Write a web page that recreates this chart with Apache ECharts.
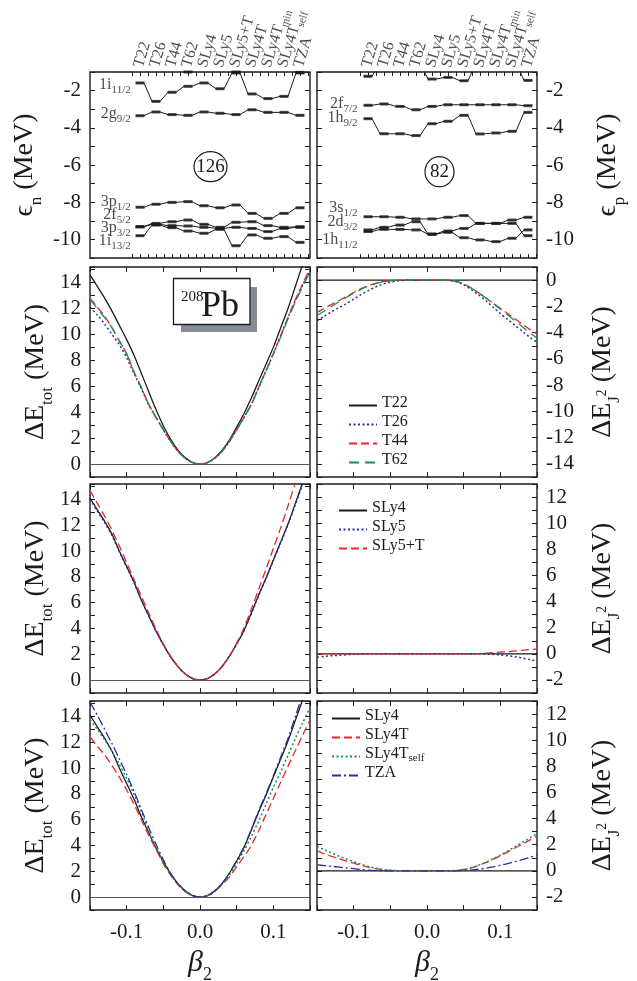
<!DOCTYPE html>
<html>
<head>
<meta charset="utf-8">
<title>208Pb tensor terms</title>
<script src="https://cdn.jsdelivr.net/npm/echarts@6.0.0/dist/echarts.min.js"></script>
<style>
html, body { margin: 0; padding: 0; background: #fff; }
#chart { width: 637px; height: 981px; }
</style>
</head>
<body>
<div id="chart"></div>
<script>
var SERIF = '"Liberation Serif", "DejaVu Serif", serif';
var INK = '#1b1b1b';
var RED = '#e8262b', BLUE = '#27309e', GREEN = '#12924a';

// parametrisations along the level-scheme axis
var models = ['T22', 'T26', 'T44', 'T62', 'SLy4', 'SLy5', 'SLy5+T', 'SLy4T', 'SLy4T_min', 'SLy4T_self', 'TZA'];

// neutron single-particle levels (MeV), one value per model
var nTop  = [-0.5, -0.5, -0.6, -1.0, -0.6, -0.6, -1.0, -0.5, -0.5, -0.5, -1.02];
var n1i11 = [-1.59, -2.58, -2.09, -1.77, -1.59, -1.90, -1.05, -2.18, -2.43, -2.31, -1.05];
var n2g9  = [-3.35, -3.15, -3.29, -3.33, -3.15, -3.22, -3.29, -3.03, -3.17, -3.17, -3.33];
var n3p1  = [-8.27, -8.11, -8.01, -7.97, -8.19, -8.30, -8.15, -8.60, -8.87, -8.60, -8.30];
var n2f5  = [-9.32, -9.14, -9.05, -8.96, -9.19, -9.35, -9.08, -9.05, -9.26, -9.35, -9.32];
var n3p3  = [-9.32, -9.19, -9.26, -9.28, -9.35, -9.41, -9.35, -9.41, -9.58, -9.41, -9.35];
var n1i13 = [-9.80, -9.23, -9.37, -9.55, -9.67, -9.46, -10.34, -9.76, -9.94, -9.85, -10.16];
var nLabels = ['1i_11/2', '2g_9/2', '3p_1/2', '2f_5/2', '3p_3/2', '1i_13/2'];
var nLabelY = [-1.75, -3.31, -8.04, -8.74, -9.44, -10.14];

// proton single-particle levels (MeV)
var pTop  = [-1.23, -0.5, -0.5, -0.5, -1.38, -1.29, -1.47, -0.5, -0.5, -0.5, -1.45];
var p2f7  = [-2.79, -2.72, -2.85, -3.03, -2.85, -2.76, -2.76, -2.76, -2.76, -2.76, -2.81];
var p1h9  = [-3.51, -4.32, -4.32, -4.42, -3.78, -3.65, -3.33, -4.33, -4.28, -4.19, -3.17];
var p3s1  = [-8.78, -8.78, -8.81, -8.90, -8.90, -8.81, -8.72, -9.14, -9.14, -8.96, -8.81];
var p2d3  = [-9.49, -9.35, -9.23, -9.05, -9.71, -9.55, -9.41, -9.14, -9.14, -9.14, -9.80];
var p1h11 = [-9.58, -9.46, -9.46, -9.49, -9.73, -9.62, -9.91, -10.03, -10.12, -9.94, -9.49];
var pLabels = ['2f_7/2', '1h_9/2', '3s_1/2', '2d_3/2', '1h_11/2'];
var pLabelY = [-2.77, -3.53, -8.37, -9.12, -10.09];

// deformation grid
var beta = [-0.15, -0.14, -0.13, -0.12, -0.11, -0.10, -0.09, -0.08, -0.07, -0.06, -0.05, -0.04, -0.03, -0.02, -0.01, 0,
            0.01, 0.02, 0.03, 0.04, 0.05, 0.06, 0.07, 0.08, 0.09, 0.10, 0.11, 0.12, 0.13, 0.14, 0.15];

// total energy curves (MeV)
var etotT22 = [14.6, 13.7, 12.8, 11.8, 10.7, 9.6, 8.4, 7.0, 5.6, 4.2, 2.95, 1.9, 1.07, 0.48, 0.12, 0,
               0.12, 0.47, 1.05, 1.85, 2.85, 3.9, 5.1, 6.4, 7.7, 9.0, 10.5, 12.0, 13.7, 15.4, 17.0];
var etotT26 = [12.1, 11.5, 10.8, 10.0, 9.2, 8.2, 7.0, 5.8, 4.6, 3.6, 2.65, 1.74, 0.98, 0.44, 0.11, 0,
               0.11, 0.44, 0.98, 1.74, 2.65, 3.6, 4.6, 5.9, 7.2, 8.5, 9.9, 11.3, 12.6, 13.8, 14.9];
var etotT44 = [12.8, 12.1, 11.4, 10.5, 9.5, 8.5, 7.1, 5.9, 4.6, 3.6, 2.65, 1.74, 0.98, 0.44, 0.11, 0,
               0.11, 0.44, 0.98, 1.74, 2.65, 3.6, 4.6, 5.9, 7.2, 8.5, 9.9, 11.3, 12.7, 13.9, 15.1];
var etotT62 = [12.7, 12.0, 11.3, 10.5, 9.5, 8.5, 7.1, 5.9, 4.6, 3.6, 2.65, 1.74, 0.98, 0.44, 0.11, 0,
               0.11, 0.44, 0.98, 1.74, 2.65, 3.6, 4.6, 5.9, 7.2, 8.5, 9.8, 11.2, 12.5, 13.7, 14.8];
var etotSLy4 = [14.1, 13.2, 12.3, 11.3, 10.0, 8.8, 7.6, 6.2, 5.0, 3.8, 2.75, 1.8, 1.05, 0.47, 0.12, 0,
                0.12, 0.47, 1.05, 1.85, 2.8, 3.85, 5.2, 6.6, 7.9, 9.3, 10.7, 12.1, 13.7, 15.3, 17.0];
var etotSLy5 = [14.0, 13.1, 12.2, 11.2, 9.95, 8.75, 7.55, 6.2, 5.0, 3.8, 2.75, 1.8, 1.05, 0.47, 0.12, 0,
                0.12, 0.47, 1.05, 1.85, 2.8, 3.85, 5.15, 6.55, 7.85, 9.25, 10.65, 12.05, 13.6, 15.2, 16.9];
var etotSLy5T = [14.7, 13.7, 12.7, 11.6, 10.4, 9.1, 7.8, 6.5, 5.2, 3.95, 2.8, 1.85, 1.05, 0.47, 0.12, 0,
                 0.12, 0.47, 1.05, 1.85, 2.85, 4.05, 5.5, 7.05, 8.6, 10.2, 11.8, 13.5, 15.3, 17.1, 18.9];
var etotSLy4T = [12.4, 11.7, 11.0, 10.2, 9.3, 8.3, 7.2, 6.0, 4.8, 3.7, 2.6, 1.7, 0.95, 0.42, 0.1, 0,
                 0.1, 0.42, 0.95, 1.55, 2.35, 3.15, 4.0, 5.15, 6.4, 7.65, 8.9, 10.15, 11.35, 12.55, 13.75];
var etotSLy4Tself = [13.75, 13.0, 12.2, 11.3, 10.3, 9.2, 8.0, 6.6, 5.1, 3.8, 2.7, 1.75, 1.0, 0.44, 0.11, 0,
                     0.11, 0.44, 1.0, 1.7, 2.6, 3.6, 4.7, 5.9, 7.2, 8.5, 9.7, 11.0, 12.3, 13.5, 14.7];
var etotTZA = [15.1, 14.1, 13.0, 11.9, 10.7, 9.5, 8.2, 6.8, 5.4, 4.1, 2.9, 1.85, 1.05, 0.47, 0.12, 0,
               0.12, 0.47, 1.05, 1.85, 2.85, 3.9, 5.25, 6.7, 8.0, 9.4, 10.85, 12.3, 14.0, 15.7, 17.4];

// J^2 correction curves (MeV)
var ej2Zero = [0, 0, 0, 0, 0, 0, 0, 0, 0, 0, 0, 0, 0, 0, 0, 0, 0, 0, 0, 0, 0, 0, 0, 0, 0, 0, 0, 0, 0, 0, 0];
var ej2T26 = [-3.1, -2.75, -2.4, -2.1, -1.8, -1.45, -1.1, -0.8, -0.52, -0.3, -0.15, -0.06, -0.02, 0, 0, 0,
              0, 0, -0.03, -0.12, -0.35, -0.7, -1.1, -1.55, -2.05, -2.55, -3.0, -3.45, -3.9, -4.35, -4.75];
var ej2T44 = [-2.46, -2.15, -1.85, -1.55, -1.25, -0.95, -0.65, -0.42, -0.24, -0.12, -0.05, -0.02, 0, 0, 0, 0,
              0, 0, 0, -0.1, -0.3, -0.6, -0.95, -1.35, -1.75, -2.15, -2.55, -2.95, -3.35, -3.75, -4.1];
var ej2T62 = [-2.7, -2.35, -2.0, -1.65, -1.32, -1.0, -0.7, -0.45, -0.26, -0.13, -0.05, -0.02, 0, 0, 0, 0,
              0, 0, 0, -0.1, -0.3, -0.6, -0.95, -1.35, -1.77, -2.2, -2.65, -3.1, -3.55, -4.0, -4.4];
var ej2SLy5 = [-0.26, -0.2, -0.15, -0.11, -0.07, -0.04, -0.02, -0.01, 0, 0, 0, 0, 0, 0, 0, 0,
               0, 0, 0, 0, 0, 0, 0, -0.02, -0.05, -0.09, -0.15, -0.23, -0.32, -0.44, -0.57];
var ej2SLy5T = [0, 0, 0, 0, 0, 0, 0, 0, 0, 0, 0, 0, 0, 0, 0, 0,
                0, 0, 0, 0, 0, 0, 0.02, 0.05, 0.09, 0.13, 0.17, 0.22, 0.27, 0.32, 0.38];
var ej2SLy4T = [1.52, 1.3, 1.1, 0.92, 0.75, 0.58, 0.42, 0.28, 0.16, 0.08, 0.03, 0.01, 0, 0, 0, 0,
                0, 0, 0, 0.03, 0.1, 0.22, 0.4, 0.62, 0.88, 1.15, 1.45, 1.75, 2.05, 2.35, 2.66];
var ej2SLy4Tself = [1.9, 1.62, 1.36, 1.12, 0.9, 0.7, 0.5, 0.33, 0.2, 0.1, 0.04, 0.01, 0, 0, 0, 0,
                    0, 0, 0, 0.03, 0.1, 0.23, 0.42, 0.65, 0.92, 1.2, 1.52, 1.84, 2.17, 2.5, 2.86];
var ej2TZA = [0.46, 0.4, 0.34, 0.28, 0.22, 0.16, 0.1, 0.05, 0.02, 0, 0, 0, 0, 0, 0, 0,
              0, 0, 0, 0, 0.02, 0.06, 0.12, 0.2, 0.3, 0.42, 0.55, 0.7, 0.86, 1.03, 1.22];

// layout
var colX = [90, 317], W = 220;
var firstCat = [50, 51], CAT = 16;
var rowTop = [72, 267, 484, 701], rowH = [186, 210, 209, 209];

function richSet(base, sub) {
    var pad = Math.round(base * 0.2);
    return {
        b: { fontFamily: SERIF, fontSize: base, color: INK, verticalAlign: 'bottom', padding: [0, 0, pad, 0] },
        s: { fontFamily: SERIF, fontSize: sub, color: INK, verticalAlign: 'bottom' },
        u: { fontFamily: SERIF, fontSize: sub * 0.8, color: INK, verticalAlign: 'bottom', padding: [0, 0, Math.round(base * 0.5), 0] },
        i: { fontFamily: SERIF, fontStyle: 'italic', fontSize: base, color: INK, verticalAlign: 'bottom', padding: [0, 0, pad, 0] }
    };
}
function rich(name) {
    var p = name.split('_');
    return '{b|' + p[0] + '}' + (p[1] ? '{s|' + p[1] + '}' : '');
}
function evenLabel(lo, hi) {
    return function (v) {
        var r = Math.round(v);
        if (Math.abs(v - r) > 1e-6 || r % 2 !== 0 || r < lo || r > hi) return '';
        return String(r);
    };
}
function betaLabel(v) {
    var r = Math.round(v * 100);
    if (r === -10) return '-0.1';
    if (r === 0) return '0.0';
    if (r === 10) return '0.1';
    return '';
}

var grids = [], xAxes = [], yAxes = [], series = [], legends = [];
function addGrid(g) { grids.push(g); return grids.length - 1; }
function addX(a) { xAxes.push(a); return xAxes.length - 1; }
function addY(a) { yAxes.push(a); return yAxes.length - 1; }

function frame(r, c) {
    return { left: colX[c], top: rowTop[r], width: W, height: rowH[r], show: true,
        borderColor: INK, borderWidth: 1.4, backgroundColor: 'rgba(0,0,0,0)',
        containLabel: false, outerBoundsMode: 'none' };
}
function valAxis(g, pos, min, max, fmt, name, gap) {
    return { type: 'value', gridIndex: g, position: pos, min: min, max: max, interval: 1,
        axisLine: { show: false, onZero: false }, splitLine: { show: false },
        axisTick: { show: true, inside: true, length: 5, lineStyle: { color: INK, width: 1 } },
        axisLabel: { show: !!fmt, formatter: fmt || undefined, fontFamily: SERIF, fontSize: 21, color: INK, margin: 9 },
        name: name || '', nameLocation: 'middle', nameRotate: 90, nameGap: gap || 0,
        nameTextStyle: { rich: richSet(28, 17) } };
}
function betaAxis(g, pos, labels) {
    return { type: 'value', gridIndex: g, position: pos, min: -0.15, max: 0.15, interval: 0.05,
        axisLine: { show: false, onZero: false }, splitLine: { show: false },
        axisTick: { show: true, inside: true, length: 5, lineStyle: { color: INK, width: 1 } },
        axisLabel: { show: labels, formatter: betaLabel, fontFamily: SERIF, fontSize: 21, color: INK, margin: 12 },
        name: labels ? '{i|β}{s|2}' : '', nameLocation: 'middle', nameGap: 38,
        nameTextStyle: { rich: richSet(30, 18) } };
}
function catAxis(g, pos, centre) {
    return { type: 'category', gridIndex: g, position: pos, data: models, boundaryGap: true,
        axisLine: { show: false, onZero: false }, splitLine: { show: false }, axisLabel: { show: false },
        axisTick: { show: true, inside: true, length: 4, alignWithLabel: centre, interval: 0, lineStyle: { color: INK, width: 1 } } };
}

function levelSeries(vals, xi, yi) {
    var pts = [];
    vals.forEach(function (v, i) { pts.push([i - 0.25, v]); pts.push([i + 0.25, v]); });
    series.push({ type: 'line', xAxisIndex: xi, yAxisIndex: yi, data: pts, symbol: 'none', silent: true,
        lineStyle: { color: INK, width: 1 } });
    series.push({ type: 'scatter', xAxisIndex: xi, yAxisIndex: yi, symbol: 'rect', symbolSize: [9, 3], silent: true,
        data: vals.map(function (v, i) { return [i, v]; }), itemStyle: { color: INK } });
}

function levelPanel(c, levels, labels, labelY, labelX, yName, gap) {
    var g = addGrid(frame(0, c));
    var xi = addX({ type: 'value', gridIndex: g, min: -firstCat[c] / CAT, max: (W - firstCat[c]) / CAT, show: false,
        axisLine: { onZero: false } });
    var yi = addY(valAxis(g, c === 0 ? 'left' : 'right', -11, -1, evenLabel(-10, -2), yName, gap));
    addY(valAxis(g, c === 0 ? 'right' : 'left', -11, -1, null));
    var og = addGrid({ left: colX[c] + firstCat[c] - CAT / 2, top: rowTop[0], width: CAT * models.length,
        height: rowH[0], show: false, containLabel: false, outerBoundsMode: 'none' });
    addY({ type: 'value', gridIndex: og, show: false, axisLine: { onZero: false } });
    addX(catAxis(og, 'top', true));
    addX(catAxis(og, 'bottom', true));
    addX(catAxis(og, 'top', false));
    addX(catAxis(og, 'bottom', false));
    levels.forEach(function (l) { levelSeries(l, xi, yi); });
    // level names inside the frame
    series.push({ type: 'scatter', xAxisIndex: xi, yAxisIndex: yi, symbolSize: 1, clip: false, silent: true,
        itemStyle: { color: 'rgba(0,0,0,0)' },
        data: labels.map(function (t, k) { return [labelX, labelY[k], t]; }),
        label: { show: true, position: 'left', distance: 0, color: INK, fontFamily: SERIF,
            formatter: function (p) { return rich(p.data[2]); }, rich: richSet(16, 11) } });
    // slanted model names above the frame
    series.push({ type: 'scatter', xAxisIndex: xi, yAxisIndex: yi, symbolSize: 1, clip: false, silent: true,
        itemStyle: { color: 'rgba(0,0,0,0)' },
        data: models.map(function (m, i) { return [i, -1, m]; }),
        label: { show: true, position: 'top', distance: 4, rotate: 73, align: 'left', verticalAlign: 'middle',
            color: INK, fontFamily: SERIF, fontSize: 16,
            formatter: function (p) { return rich(p.data[2]); }, rich: richSet(16, 11) } });
}

function curvePanel(r, c, yMin, yMax, lo, hi, yName, gap) {
    var g = addGrid(frame(r, c));
    var xi = addX(betaAxis(g, 'bottom', r === 3));
    addX(betaAxis(g, 'top', false));
    var yi = addY(valAxis(g, c === 0 ? 'left' : 'right', yMin, yMax, evenLabel(lo, hi), yName, gap));
    addY(valAxis(g, c === 0 ? 'right' : 'left', yMin, yMax, null));
    return { x: xi, y: yi };
}
function curve(name, vals, ax, color, dash, width) {
    series.push({ name: name, type: 'line', xAxisIndex: ax.x, yAxisIndex: ax.y, symbol: 'none', smooth: 0.3, silent: true,
        data: vals.map(function (v, i) { return [beta[i], v]; }),
        lineStyle: { color: color, width: width || 1.3, type: dash || 'solid' }, itemStyle: { color: color } });
}
function zeroLine(ax) {
    series.push({ type: 'line', xAxisIndex: ax.x, yAxisIndex: ax.y, data: [], silent: true,
        markLine: { silent: true, symbol: 'none', label: { show: false }, animation: false,
            lineStyle: { color: '#555', width: 1, type: 'solid' }, data: [{ yAxis: 0 }] } });
}
function legend(left, top, names) {
    var rs = richSet(16, 11);
    rs.b.lineHeight = 15; rs.s.lineHeight = 15; rs.b.padding = [0, 0, 2, 0];
    legends.push({ left: left, top: top, orient: 'vertical', itemWidth: 28, itemHeight: 2, itemGap: 1,
        selectedMode: false, data: names, itemStyle: { opacity: 0, borderWidth: 0 },
        formatter: rich, textStyle: { color: INK, fontFamily: SERIF, fontSize: 16, lineHeight: 15, rich: rs } });
}

var DOT = [2, 2.5], DASH = [8, 4], LDASH = [10, 6], DASHDOT = [9, 3, 2, 3];
var EN = '{b|ΔE}{s|tot}{b| (MeV)}', EJ = '{b|ΔE}{s|J}{u|2}{b| (MeV)}';

// level schemes
levelPanel(0, [nTop, n1i11, n2g9, n3p1, n2f5, n3p3, n1i13], nLabels, nLabelY, -0.55, '{b|ϵ}{s|n}{b| (MeV)}', 45);
levelPanel(1, [pTop, p2f7, p1h9, p3s1, p2d3, p1h11], pLabels, pLabelY, -0.625, '{b|ϵ}{s|p}{b| (MeV)}', 57);

// T-family
var a = curvePanel(1, 0, -1, 15.2, 0, 14, EN, 34);
zeroLine(a);
curve('T22', etotT22, a, INK);
curve('T26', etotT26, a, BLUE, DOT, 1.5);
curve('T44', etotT44, a, RED, DASH);
curve('T62', etotT62, a, GREEN, LDASH);
a = curvePanel(1, 1, -15, 1, -14, 0, EJ, 52);
curve('T22', ej2Zero, a, INK);
curve('T26', ej2T26, a, BLUE, DOT, 1.5);
curve('T44', ej2T44, a, RED, DASH);
curve('T62', ej2T62, a, GREEN, LDASH);
legend(343, 390, ['T22', 'T26', 'T44', 'T62']);

// SLy5 family
a = curvePanel(2, 0, -1, 15.2, 0, 14, EN, 34);
zeroLine(a);
curve('SLy4', etotSLy4, a, INK);
curve('SLy5', etotSLy5, a, BLUE, DOT, 1.5);
curve('SLy5+T', etotSLy5T, a, RED, DASH);
a = curvePanel(2, 1, -3, 13, -2, 12, EJ, 52);
curve('SLy4', ej2Zero, a, INK);
curve('SLy5', ej2SLy5, a, BLUE, DOT, 1.5);
curve('SLy5+T', ej2SLy5T, a, RED, DASH);
legend(333, 495, ['SLy4', 'SLy5', 'SLy5+T']);

// SLy4T family
a = curvePanel(3, 0, -1, 15.2, 0, 14, EN, 34);
zeroLine(a);
curve('SLy4', etotSLy4, a, INK);
curve('SLy4T', etotSLy4T, a, RED, DASH);
curve('SLy4T_self', etotSLy4Tself, a, GREEN, DOT, 1.5);
curve('TZA', etotTZA, a, BLUE, DASHDOT);
a = curvePanel(3, 1, -3, 13, -2, 12, EJ, 52);
curve('SLy4', ej2Zero, a, INK);
curve('SLy4T', ej2SLy4T, a, RED, DASH);
curve('SLy4T_self', ej2SLy4Tself, a, GREEN, DOT, 1.5);
curve('TZA', ej2TZA, a, BLUE, DASHDOT);
legend(326, 703, ['SLy4', 'SLy4T', 'SLy4T_self', 'TZA']);

var chart = echarts.init(document.getElementById('chart'), null, { renderer: 'canvas' });
chart.setOption({
    animation: false,
    backgroundColor: '#fff',
    textStyle: { fontFamily: SERIF, color: INK },
    grid: grids,
    xAxis: xAxes,
    yAxis: yAxes,
    legend: legends,
    series: series,
    graphic: [
        { type: 'rect', shape: { x: 181, y: 287, width: 76, height: 45 }, style: { fill: '#878c94' }, silent: true },
        { type: 'rect', shape: { x: 173.5, y: 278.5, width: 76.5, height: 46 }, style: { fill: '#fff', stroke: INK, lineWidth: 1.3 }, silent: true },
        { type: 'text', x: 181, y: 297, style: { text: '208', font: '15px ' + SERIF, fill: INK, textVerticalAlign: 'middle' }, silent: true },
        { type: 'text', x: 201, y: 307, style: { text: 'Pb', font: '36px ' + SERIF, fill: INK, textVerticalAlign: 'middle' }, silent: true },
        { type: 'ellipse', shape: { cx: 210.5, cy: 166.7, rx: 16.5, ry: 15 }, style: { fill: 'none', stroke: INK, lineWidth: 1.2 }, silent: true },
        { type: 'text', x: 210.5, y: 167.5, style: { text: '126', font: '19px ' + SERIF, fill: INK, textAlign: 'center', textVerticalAlign: 'middle' }, silent: true },
        { type: 'ellipse', shape: { cx: 439.5, cy: 171.7, rx: 14.5, ry: 15 }, style: { fill: 'none', stroke: INK, lineWidth: 1.2 }, silent: true },
        { type: 'text', x: 439.5, y: 172.5, style: { text: '82', font: '19px ' + SERIF, fill: INK, textAlign: 'center', textVerticalAlign: 'middle' }, silent: true }
    ]
});
</script>
</body>
</html>
